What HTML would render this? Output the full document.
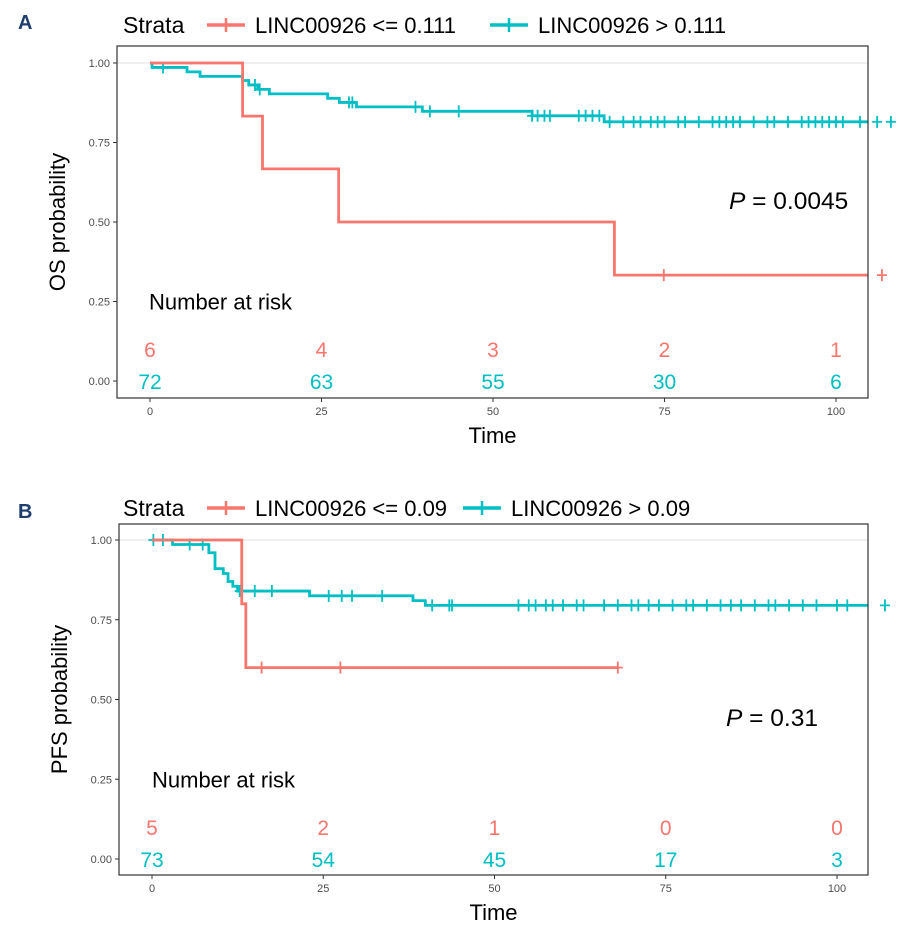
<!DOCTYPE html>
<html><head><meta charset="utf-8"><style>
body{margin:0;background:#fff}
svg{display:block;font-family:"Liberation Sans",Arial,sans-serif}
</style></head><body>
<svg id="svg" width="919" height="942" viewBox="0 0 919 942" xmlns="http://www.w3.org/2000/svg"></svg>
<script>
// ===== Panel A data =====
const aRedTimes=[0,13.5,16.4,27.5,67.7,105];
const aRedSurv=[1,0.833,0.667,0.5,0.333,0.333];
const aRedCensor=[74.9,106.7];
const aTealTimes=[0,0.3,5.4,7.3,13.5,14.4,15.7,17.4,25.9,27.6,30.1,39.7,55.7,66.2,105];
const aTealSurv=[1,0.986,0.972,0.958,0.945,0.931,0.917,0.903,0.889,0.876,0.862,0.848,0.834,0.815,0.815];
const aTealCensor=[1.9,15.3,16,29,29.5,38.7,40.8,45,55.7,56.5,57.5,58.3,62.5,63.5,64.5,65.5,67,69,70.5,71.5,73,74,75,77,78,80,82,83,84,85,86,88,90,91,93,95,96,97,98,99,100,101,103.5,106,108];
const aRiskRed=[6,4,3,2,1];
const aRiskTeal=[72,63,55,30,6];
// ===== Panel B data =====
const bRedTimes=[0,13.1,13.7,68];
const bRedSurv=[1,0.8,0.6,0.6];
const bRedCensor=[16,27.5,68];
const bTealTimes=[0,3,8.3,9.2,10.4,11.1,11.8,12.5,23,38.1,39.9,105];
const bTealSurv=[1,0.986,0.96,0.91,0.895,0.87,0.855,0.84,0.825,0.81,0.795,0.795];
const bTealCensor=[0.2,1.6,5.5,7.4,12.8,15,17.5,25.8,27.7,29.2,33.6,40.9,43.4,43.8,53.5,55,56,57.5,58.5,60,62,63,66,68,70,71,72.5,74,76,78,79,81,83,84.5,86,88,90,91,93,95,97,100,101.5,107];
const bRiskRed=[5,2,1,0,0];
const bRiskTeal=[73,54,45,17,3];
const xTicks=[0,25,50,75,100];
const yTicks=[0,0.25,0.5,0.75,1];
const yTickLabels=["0.00","0.25","0.50","0.75","1.00"];

const NS="http://www.w3.org/2000/svg";
const svg=document.getElementById('svg');
const RED="#F8766D",TEAL="#00BFC4";
function mk(tag,attrs,parent,txt){const e=document.createElementNS(NS,tag);for(const k in attrs)e.setAttribute(k,attrs[k]);if(txt!==undefined)e.textContent=txt;(parent||svg).appendChild(e);return e;}

function panel(o){
  const g=mk('g',{});
  
  
  const X=t=>o.x0+t*o.xs, Y=s=>o.y0-s*o.ys;
  const L=mk('text',{x:18,y:o.letterY,'font-size':20,'font-weight':'bold',fill:'#1f3d6e'},g,o.letter);
  
  const lg=mk('g',{},g);
  
  mk('text',{x:123,y:o.legY+8,'font-size':23,fill:'#000'},lg,'Strata');
  o.legItems.forEach((it,i)=>{
    const e=mk('g',{},lg);
    
    mk('line',{x1:it.x,x2:it.x+38,y1:o.legY,y2:o.legY,stroke:it.c,'stroke-width':3.5},e);
    mk('line',{x1:it.x+19,x2:it.x+19,y1:o.legY-7,y2:o.legY+7,stroke:it.c,'stroke-width':2.5},e);
    mk('text',{x:it.x+48,y:o.legY+8,'font-size':22,fill:'#000'},e,it.t);
  });
  const clipId='clip'+o.letter;
  const cp=mk('clipPath',{id:clipId},g);mk('rect',{x:o.left,y:o.top,width:o.right-o.left,height:o.bottom-o.top},cp);
  const gl=mk('line',{x1:o.left,x2:o.right,y1:Y(1),y2:Y(1),stroke:'#ebebeb','stroke-width':1.5},g);
  
  const ya=mk('g',{},g);
  yTicks.forEach((v,i)=>{mk('line',{x1:o.left-4,x2:o.left,y1:Y(v),y2:Y(v),stroke:'#333','stroke-width':1},ya);
    mk('text',{x:o.left-7,y:Y(v)+4,'font-size':11,'text-anchor':'end',fill:'#4d4d4d'},ya,yTickLabels[i]);});
  const xa=mk('g',{},g);
  xTicks.forEach(v=>{mk('line',{x1:X(v),x2:X(v),y1:o.bottom,y2:o.bottom+4,stroke:'#333','stroke-width':1},xa);
    mk('text',{x:X(v),y:o.bottom+17,'font-size':11,'text-anchor':'middle',fill:'#4d4d4d'},xa,String(v));});
  const xt=mk('text',{x:(o.left+o.right)/2,y:o.bottom+45,'font-size':22,'text-anchor':'middle',fill:'#000'},g,'Time');
  
  const cy=(o.top+o.bottom)/2;
  const yt=mk('text',{x:0,y:0,'font-size':22,'text-anchor':'middle',fill:'#000',transform:`translate(${o.left-52},${cy}) rotate(-90)`},g,o.ytitle);
  
  function curve(times,surv,cens,col,nm){
    const cg=mk('g',{},g);
    let d=`M${X(times[0])},${Y(surv[0])}`;
    for(let i=1;i<times.length;i++){d+=`H${X(times[i])}V${Y(surv[i])}`;}
    mk('path',{d:d,fill:'none',stroke:col,'stroke-width':2.8,'clip-path':`url(#${clipId})`},cg);
    cens.forEach(t=>{
      let s=surv[0];for(let i=0;i<times.length;i++){if(times[i]<=t)s=surv[i];}
      const m=mk('path',{d:`M${X(t)-5},${Y(s)}h10M${X(t)},${Y(s)-6}v12`,stroke:col,'stroke-width':1.8,fill:'none'},cg);
      
    });
  }
  curve(o.tealT,o.tealS,o.tealC,TEAL,'curve-high');
  curve(o.redT,o.redS,o.redC,RED,'curve-low');
  mk('rect',{x:o.left,y:o.top,width:o.right-o.left,height:o.bottom-o.top,fill:'none',stroke:'#333','stroke-width':1.2},g);
  const rt=mk('g',{},g);
  mk('text',{x:o.nrX,y:Y(0.25)+8,'font-size':22,fill:'#000'},rt,'Number at risk');
  xTicks.forEach((v,i)=>{
    mk('text',{x:X(v),y:Y(0.1)+8,'font-size':21,'text-anchor':'middle',fill:RED},rt,String(o.rr[i]));
    mk('text',{x:X(v),y:Y(0)+8,'font-size':21,'text-anchor':'middle',fill:TEAL},rt,String(o.rt[i]));
  });
  const p=mk('text',{x:o.px,y:o.py,'font-size':24.5,fill:'#000'},g);
  
  mk('tspan',{'font-style':'italic'},p,'P');mk('tspan',{},p,' = '+o.pv);
}

panel({name:'panel-a-os',letter:'A',letterY:29,legY:25,
  legItems:[{x:207,c:RED,t:'LINC00926 <= 0.111'},{x:490,c:TEAL,t:'LINC00926 > 0.111'}],
  left:117,right:868,top:46,bottom:398,x0:150,xs:6.86,y0:381,ys:318,ytitle:'OS probability',
  redT:aRedTimes,redS:aRedSurv,redC:aRedCensor,tealT:aTealTimes,tealS:aTealSurv,tealC:aTealCensor,
  rr:aRiskRed,rt:aRiskTeal,nrX:149,px:729,py:209,pv:'0.0045'});
panel({name:'panel-b-pfs',letter:'B',letterY:518,legY:508,
  legItems:[{x:207,c:RED,t:'LINC00926 <= 0.09'},{x:463,c:TEAL,t:'LINC00926 > 0.09'}],
  left:119,right:868,top:524,bottom:875,x0:152,xs:6.85,y0:859,ys:319,ytitle:'PFS probability',
  redT:bRedTimes,redS:bRedSurv,redC:bRedCensor,tealT:bTealTimes,tealS:bTealSurv,tealC:bTealCensor,
  rr:bRiskRed,rt:bRiskTeal,nrX:152,px:726,py:726,pv:'0.31'});
</script>
</body></html>
